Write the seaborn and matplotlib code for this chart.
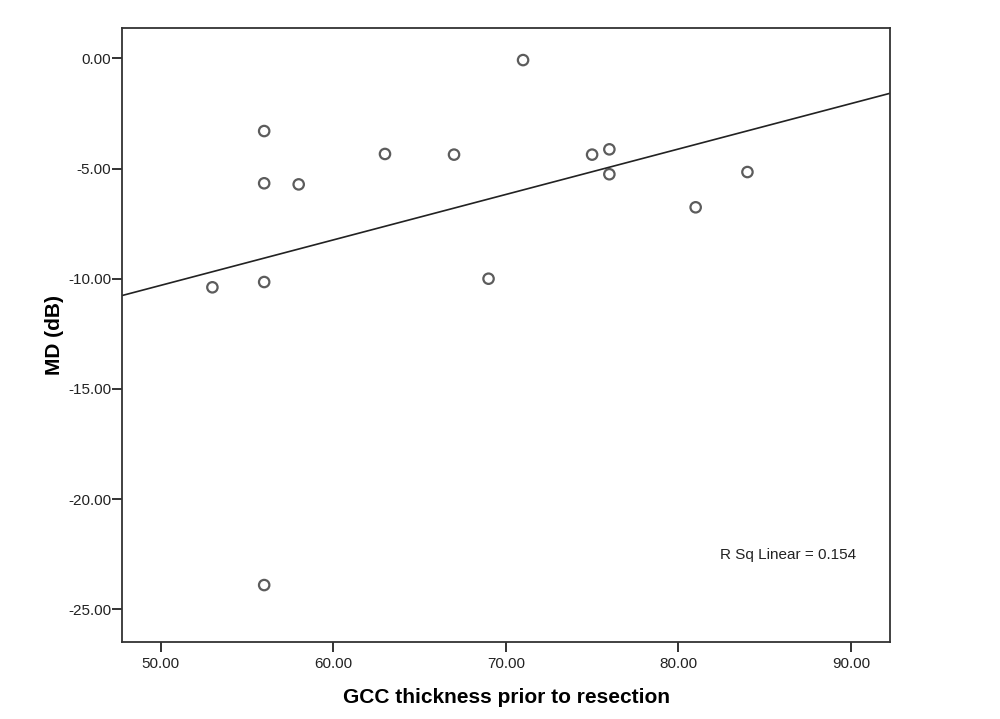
# ------------------------------------------ LOAD PACKAGES ---------------------------------------------------#
import numpy as np
import pandas as pd
import matplotlib
matplotlib.use("Agg")
import matplotlib.pyplot as plt
import seaborn as sns

# ------------------------------------------ USER VARIABLES ------------------------------------------------#
gcc = [53, 56, 56, 56, 56, 58, 63, 67, 69, 71, 75, 76, 76, 81, 84]
md = [-10.39, -3.30, -5.67, -10.15, -23.90, -5.72, -4.34, -4.37, -10.00, -0.08,
      -4.37, -4.13, -5.26, -6.76, -5.16]
x_ticks = [50, 60, 70, 80, 90]
y_ticks = [0, -5, -10, -15, -20, -25]

df = pd.DataFrame({'GCC': gcc, 'MD': md})

# ------------------------------------------ PLOT ------------------------------------------------------------#
sns.set_style("ticks")
plt.rcParams['font.family'] = ['Liberation Sans', 'DejaVu Sans']
edge = '#333333'

fig = plt.figure(figsize=(10, 7.19), dpi=100)
ax = fig.add_axes([0.1223, 0.1075, 0.7677, 0.854])
ax.set_xlim(47.78, 92.26)
ax.set_ylim(-26.47, 1.39)

sns.regplot(x='GCC', y='MD', data=df, ax=ax, ci=None, truncate=False,
            scatter_kws=dict(facecolors='none', edgecolors=edge, s=56, linewidths=1.6),
            line_kws=dict(color='#222222', lw=1.2))
ax.set_xlim(47.78, 92.26)
ax.set_ylim(-26.47, 1.39)

ax.set_xticks(x_ticks)
ax.set_xticklabels(["{0:.2f}".format(v) for v in x_ticks])
ax.set_yticks(y_ticks)
ax.set_yticklabels(["{0:.2f}".format(v) for v in y_ticks])
ax.tick_params(axis='both', labelsize=11, colors='#222222', width=1.3, length=7, direction='out')
ax.tick_params(axis='x', pad=4)
ax.tick_params(axis='y', pad=1)
for s in ax.spines.values():
    s.set_visible(True)
    s.set_linewidth(1.3)
    s.set_color(edge)

ax.set_xlabel("GCC thickness prior to resection", fontsize=15, fontweight='bold',
              labelpad=12, color='black')
ax.set_ylabel("MD (dB)", fontsize=15, fontweight='bold', labelpad=3, color='black')

r = np.corrcoef(df['GCC'], df['MD'])[0, 1]
ax.text(0.7786, 0.141, "R Sq Linear = {0:.3f}".format(r ** 2), transform=ax.transAxes,
        fontsize=11, ha='left', va='center', color='#222222')

plt.savefig("out.png", dpi=100)
